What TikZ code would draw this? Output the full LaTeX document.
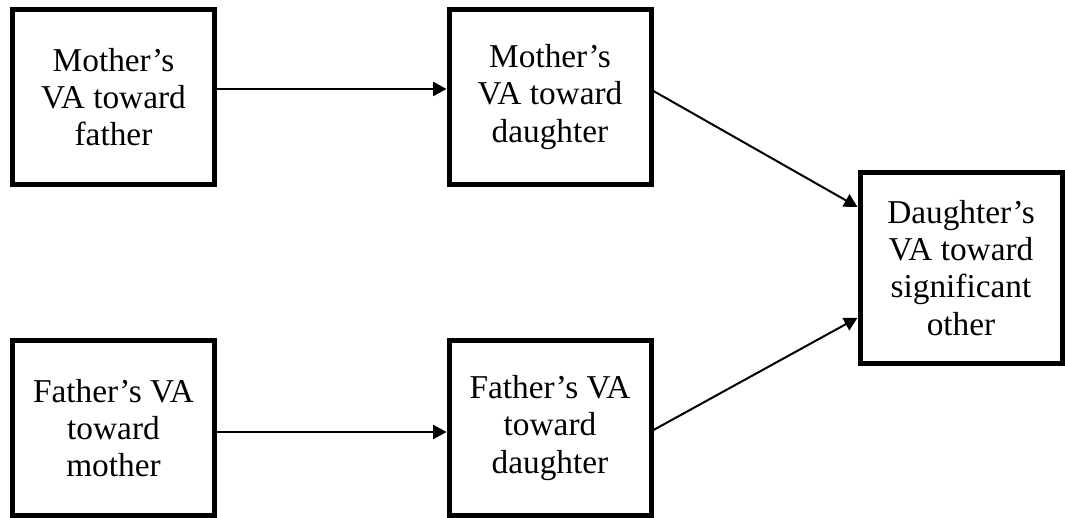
\documentclass[tikz,border=0pt]{standalone}
\usepackage{fontspec}
\setmainfont{Liberation Serif}
\usetikzlibrary{arrows.meta}
\begin{document}
\begin{tikzpicture}[x=0.75pt,y=-0.75pt,
  vabox/.style={draw, line width=3.75pt, inner sep=0pt, align=center,
    minimum width=151.5pt, minimum height=131.25pt,
    font=\fontsize{25}{28}\selectfont},
  bigbox/.style={vabox, minimum height=143.6pt},
  arr/.style={line width=1.5pt, -{Triangle[length=10pt,width=10.5pt]}}]
\useasboundingbox (0,0) rectangle (1065,518);
\node[vabox] (mf) at (113.5,97) {Mother’s\\VA toward\\father};
\node[vabox] (md) at (550,97) {Mother’s\\VA toward\\daughter};
\node[bigbox] (ds) at (961,267.75) {Daughter’s\\VA toward\\significant\\other};
\node[vabox] (fm) at (113.5,428) {Father’s VA\\toward\\mother};
\node[vabox] (fd) at (550,428) {Father’s VA\\toward\\daughter};
\draw[arr] ([yshift=6pt]mf.east) -- ([yshift=6pt]md.west);
\draw[arr] ([yshift=-3pt]fm.east) -- ([yshift=-3pt]fd.west);
\draw[arr] ([yshift=4.5pt]md.east) -- ([yshift=45.6pt]ds.west);
\draw[arr] ([yshift=-1.5pt]fd.east) -- ([yshift=-37.5pt]ds.west);
\end{tikzpicture}
\end{document}
